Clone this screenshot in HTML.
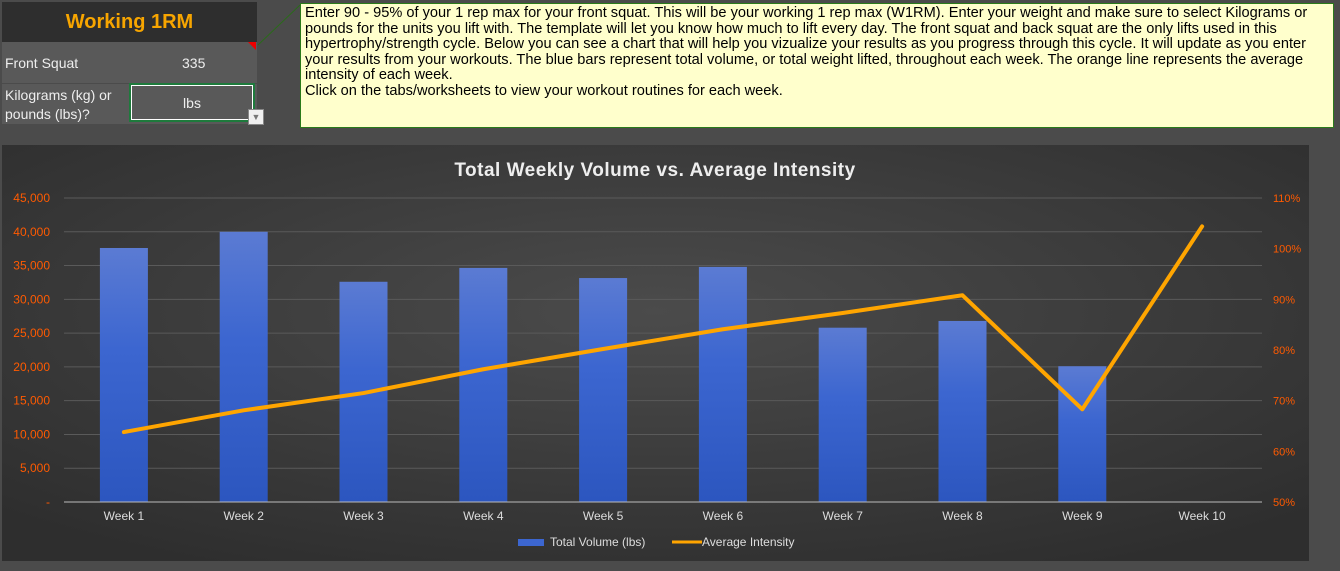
<!DOCTYPE html>
<html><head><meta charset="utf-8"><style>
body{margin:0;width:1340px;height:571px;background:#4b4b4b;font-family:"Liberation Sans",Arial,sans-serif;overflow:hidden;position:relative}
.abs{position:absolute}
</style></head><body>
<div class="abs" style="left:2px;top:2px;width:255px;height:40px;background:#2e2e2e;color:#f7a500;font-weight:bold;font-size:20px;text-align:center;line-height:40px">Working 1RM</div>
<div class="abs" style="left:2px;top:42px;width:255px;height:41px;background:#595959;color:#eee;font-size:14px;line-height:42px">
 <span style="padding-left:3px">Front Squat</span><span class="abs" style="left:180px;top:0">335</span></div>
<div class="abs" style="left:248px;top:42px;width:0;height:0;border-left:8px solid transparent;border-top:8px solid #e00"></div>
<div class="abs" style="left:2px;top:84px;width:255px;height:40px;background:#595959;color:#eee;font-size:14px;line-height:19px"><div style="padding:2px 3px">Kilograms (kg) or<br>pounds (lbs)?</div></div>
<div class="abs" style="left:129px;top:83px;width:126px;height:39px;border:2px solid #1e7a3c;box-sizing:border-box;outline:1px solid #fff;outline-offset:-3px;color:#eee;font-size:14px;text-align:center;line-height:36px;background:#595959">lbs</div>
<div class="abs" style="left:248px;top:109px;width:16px;height:16px;background:#f0f0f0;border:1px solid #888;box-sizing:border-box;font-size:9px;color:#777;text-align:center;line-height:15px">▼</div>
<svg class="abs" style="left:255px;top:0" width="50" height="50"><line x1="3" y1="45" x2="45" y2="5" stroke="#2a6a1a" stroke-width="1"/></svg>
<div class="abs" style="left:300px;top:3px;width:1034px;height:125px;background:#ffffcc;border:1px solid #2a7a1a;box-sizing:border-box;padding:2px 4px;font-size:14.6px;line-height:15.6px;color:#000">Enter 90 - 95% of your 1 rep max for your front squat. This will be your working 1 rep max (W1RM). Enter your weight and make sure to select Kilograms or pounds for the units you lift with. The template will let you know how much to lift every day. The front squat and back squat are the only lifts used in this hypertrophy/strength cycle. Below you can see a chart that will help you vizualize your results as you progress through this cycle. It will update as you enter your results from your workouts. The blue bars represent total volume, or total weight lifted, throughout each week. The orange line represents the average intensity of each week.<br>Click on the tabs/worksheets to view your workout routines for each week.</div>
<svg id="chart" class="abs" style="left:0;top:0" width="1340" height="571">
<defs>
<radialGradient id="bg" cx="0.5" cy="0.4" r="0.7"><stop offset="0" stop-color="#4b4b4b"/><stop offset="1" stop-color="#2e2e2e"/></radialGradient>
<linearGradient id="bar" x1="0" y1="0" x2="0" y2="1"><stop offset="0" stop-color="#5b7bd3"/><stop offset="0.4" stop-color="#3c66d0"/><stop offset="1" stop-color="#2c56bf"/></linearGradient>
</defs>
<rect x="2" y="145" width="1307" height="416" fill="url(#bg)"/>
<text x="655" y="176" fill="#eee" font-size="19" font-weight="bold" text-anchor="middle" letter-spacing="0.5">Total Weekly Volume vs. Average Intensity</text>
<g id="g"></g>
</svg>
<script>
const categories=["Week 1","Week 2","Week 3","Week 4","Week 5","Week 6","Week 7","Week 8","Week 9","Week 10"];
const volume=[37600,40000,32600,34650,33150,34800,25800,26800,20100,0];
const intensity=[63.8,68.1,71.5,76.2,80.2,84.1,87.3,90.8,68.3,104.4];
const leftTicks=[0,5000,10000,15000,20000,25000,30000,35000,40000,45000];
const rightTicks=[50,60,70,80,90,100,110];
const X0=64,X1=1262,Y0=502,Y1=198;
const xc=i=>X0+(X1-X0)/categories.length*(i+0.5);
const yL=v=>Y0-(v/45000)*(Y0-Y1);
const yR=v=>Y0-((v-50)/60)*(Y0-Y1);
const ns="http://www.w3.org/2000/svg",g=document.getElementById('g');
function mk(t,a,txt){const e=document.createElementNS(ns,t);for(const k in a)e.setAttribute(k,a[k]);if(txt!=null)e.textContent=txt;g.appendChild(e);return e;}
leftTicks.forEach(v=>{
 if(v>0){const l=mk('line',{x1:X0,x2:X1,y1:yL(v),y2:yL(v),stroke:'#5a5a5a','stroke-width':1});
 
 }
 const t=mk('text',{x:50,y:yL(v)+4,fill:'#ff5a00','font-size':12,'text-anchor':'end'},v===0?'-':v.toLocaleString('en-US'));
 
 
});
rightTicks.forEach(v=>{
 const t=mk('text',{x:1273,y:yR(v)+4,fill:'#ff5a00','font-size':11},v+'%');
 
 
});
volume.forEach((v,i)=>{
 if(v<=0)return;
 const r=mk('rect',{x:xc(i)-24,y:yL(v),width:48,height:Y0-yL(v),fill:'url(#bar)'});
 
 
});
const ax=mk('line',{x1:X0,x2:X1,y1:Y0,y2:Y0,stroke:'#bbb','stroke-width':1});


categories.forEach((c,i)=>{
 const t=mk('text',{x:xc(i),y:520,fill:'#ddd','font-size':12,'text-anchor':'middle'},c);
 
 
});
const pl=mk('polyline',{points:intensity.map((v,i)=>xc(i)+','+yR(v)).join(' '),fill:'none',stroke:'#ffa500','stroke-width':4,'stroke-linejoin':'round','stroke-linecap':'round'});


const lb=mk('rect',{x:518,y:539,width:26,height:7,fill:'#3c66d0'});


const lt=mk('text',{x:550,y:546,fill:'#ddd','font-size':12},'Total Volume (lbs)');


const ll=mk('line',{x1:672,x2:702,y1:542,y2:542,stroke:'#ffa500','stroke-width':3});


const lt2=mk('text',{x:702,y:546,fill:'#ddd','font-size':12},'Average Intensity');


</script>
</body></html>
